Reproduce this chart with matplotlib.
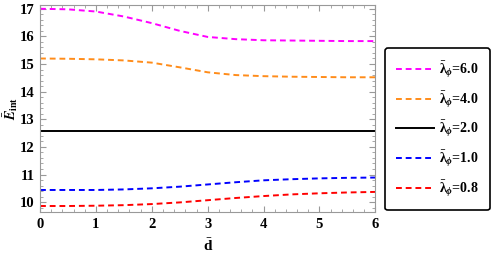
import numpy as np
import matplotlib
matplotlib.use("Agg")
import matplotlib.pyplot as plt
from matplotlib.ticker import MultipleLocator

plt.rcParams['font.family'] = ['Liberation Serif', 'DejaVu Serif']
plt.rcParams['font.weight'] = 'bold'
plt.rcParams['mathtext.fontset'] = 'custom'
plt.rcParams['mathtext.rm'] = 'Liberation Serif:bold'
plt.rcParams['mathtext.it'] = 'Liberation Serif:italic:bold'
plt.rcParams['mathtext.bf'] = 'Liberation Serif:bold'
plt.rcParams['mathtext.cal'] = 'STIXGeneral:italic'

# data
d = [0, 0.5, 1, 1.5, 2, 2.5, 3, 3.5, 4, 4.5, 5, 5.5, 6]
e_60 = [17.0, 16.98, 16.9, 16.72, 16.48, 16.2, 15.98, 15.9, 15.86, 15.85, 15.84, 15.83, 15.83]
e_40 = [15.2, 15.19, 15.17, 15.13, 15.05, 14.88, 14.7, 14.6, 14.56, 14.54, 14.53, 14.52, 14.52]
e_20 = [12.566] * 13
e_10 = [10.44, 10.44, 10.44, 10.46, 10.5, 10.56, 10.64, 10.72, 10.79, 10.83, 10.86, 10.88, 10.89]
e_08 = [9.86, 9.86, 9.87, 9.89, 9.93, 9.99, 10.07, 10.15, 10.22, 10.28, 10.32, 10.35, 10.37]

series = [
    (e_60, '#ff00ff', (0, (3, 2)), '6.0'),
    (e_40, '#ff8c1a', (0, (3, 2)), '4.0'),
    (e_20, 'black', '-', '2.0'),
    (e_10, '#0000ff', (0, (3, 2)), '1.0'),
    (e_08, '#ff0000', (0, (3, 2)), '0.8'),
]

fig = plt.figure(figsize=(4.91, 2.58), dpi=100)
ax = fig.add_axes([0.0815, 0.178, 0.683, 0.803])

for vals, col, ls, lab in series:
    ax.plot(d, vals, color=col, ls=ls, lw=1.4,
            label=r'$\bar{\mathrm{\lambda}}_{\phi}$=' + lab)

ax.set_xlim(0, 6)
ax.set_ylim(9.64, 17.14)
ax.xaxis.set_major_locator(MultipleLocator(1))
ax.xaxis.set_minor_locator(MultipleLocator(0.2))
ax.yaxis.set_major_locator(MultipleLocator(1))
ax.yaxis.set_minor_locator(MultipleLocator(0.2))
ax.tick_params(which='both', direction='in', top=True, right=True, color='#999999')
ax.tick_params(which='major', length=4, labelsize=10.5, pad=4)
ax.tick_params(which='minor', length=2)
for s in ax.spines.values():
    s.set_color('#999999')

ax.set_xlabel(r'$\bar{\mathrm{d}}$', fontsize=11, labelpad=5)
ax.set_ylabel(r'$\bar{\mathcal{E}}_{\mathrm{int}}$', fontsize=10)
ax.yaxis.set_label_coords(-0.06, 0.5)

leg = fig.legend(loc='upper left', bbox_to_anchor=(0.784, 0.814), fontsize=10,
                 frameon=True, fancybox=True, edgecolor='black', handlelength=2.7,
                 handletextpad=0.4, labelspacing=0.68, borderpad=0.8, borderaxespad=0)
leg.get_frame().set_linewidth(1.2)
leg.get_frame().set_alpha(1)

fig.savefig('out.png', dpi=100)
